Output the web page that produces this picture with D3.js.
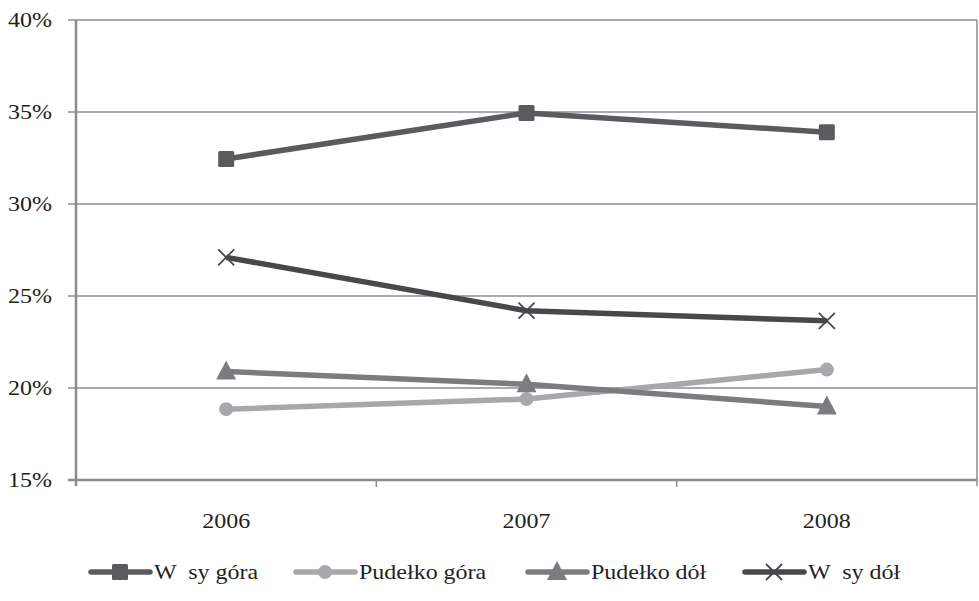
<!DOCTYPE html>
<html>
<head>
<meta charset="utf-8">
<script src="https://cdn.jsdelivr.net/npm/d3@7"></script>
<style>
  body { margin: 0; background: #fff; }
  text { font-family: "Liberation Serif", "DejaVu Serif", serif; }
</style>
</head>
<body>
<svg id="chart" width="979" height="601"></svg>
<script>
// chart data
var years = ["2006", "2007", "2008"];
var wasyGora = [32.45, 34.95, 33.9];
var pudelkoGora = [18.85, 19.4, 21.0];
var pudelkoDol = [20.9, 20.2, 19.0];
var wasyDol = [27.1, 24.2, 23.65];
var yTicks = [15, 20, 25, 30, 35, 40];

var series = [
	{ name: "W  sy góra", values: wasyGora, color: "#5a5b5f", marker: "square" },
	{ name: "Pudełko góra", values: pudelkoGora, color: "#a6a8ab", marker: "circle" },
	{ name: "Pudełko dół", values: pudelkoDol, color: "#7b7c80", marker: "triangle" },
	{ name: "W  sy dół", values: wasyDol, color: "#47484c", marker: "cross" }
];

var svg = d3.select("#chart");
var plotL = 76, plotR = 977, plotT = 20, plotB = 480;
var gridColor = "#8b8c90";
var textColor = "#231f20";
var stretch = 1.2; // the reference type is a little wide

var x = d3.scaleBand().domain(years).range([plotL, plotR]).paddingInner(0).paddingOuter(0);
var y = d3.scaleLinear().domain([15, 40]).range([plotB, plotT]);

// place text with a horizontal stretch
function label(sel, tx, ty) {
	return sel.attr("transform", (d, i) => "translate(" + tx(d, i) + "," + ty(d, i) + ") scale(" + stretch + ",1)")
		.attr("font-size", 20)
		.attr("fill", textColor);
}

// gridlines
svg.append("g").selectAll("line")
	.data(yTicks)
	.enter().append("line")
	.attr("x1", plotL - 8).attr("x2", plotR)
	.attr("y1", d => y(d)).attr("y2", d => y(d))
	.style("stroke", gridColor)
	.style("stroke-width", d => d === 15 ? 2.5 : 1.5);

// left axis and right border
svg.append("line").attr("x1", plotL).attr("x2", plotL).attr("y1", plotT).attr("y2", plotB + 6)
	.style("stroke", gridColor).style("stroke-width", 2.5);
svg.append("line").attr("x1", plotR).attr("x2", plotR).attr("y1", plotT).attr("y2", plotB + 6)
	.style("stroke", gridColor).style("stroke-width", 1.5);

// x tick marks at band edges
svg.append("g").selectAll("line")
	.data(years.slice(1))
	.enter().append("line")
	.attr("x1", d => x(d)).attr("x2", d => x(d))
	.attr("y1", plotB).attr("y2", plotB + 7)
	.style("stroke", gridColor).style("stroke-width", 1.5);

// y labels
label(svg.append("g").selectAll("text")
	.data(yTicks)
	.enter().append("text"), () => 52, d => y(d))
	.attr("dy", "0.35em")
	.attr("text-anchor", "end")
	.text(d => d + "%");

// x labels
label(svg.append("g").selectAll("text")
	.data(years)
	.enter().append("text"), d => x(d) + x.bandwidth() / 2, () => 528)
	.attr("text-anchor", "middle")
	.text(d => d);

function drawMarker(g, type, color) {
	if (type === "square") {
		g.append("rect").attr("x", -8).attr("y", -8).attr("width", 16).attr("height", 16)
			.attr("rx", 1.5).style("fill", color);
	} else if (type === "circle") {
		g.append("circle").attr("r", 7).style("fill", color);
	} else if (type === "triangle") {
		g.append("path").attr("d", "M0,-11L10,8L-10,8Z").style("fill", color);
	} else if (type === "cross") {
		g.append("path").attr("d", "M-8,-8L8,8M-8,8L8,-8")
			.style("stroke", color).style("stroke-width", 1.8).style("fill", "none");
	}
}

var line = d3.line()
	.x((d, i) => x(years[i]) + x.bandwidth() / 2)
	.y(d => y(d));

series.forEach(function (s) {
	var g = svg.append("g");
	g.append("path")
		.datum(s.values)
		.attr("d", line)
		.style("fill", "none")
		.style("stroke", s.color)
		.style("stroke-width", 5.5)
		.style("stroke-linejoin", "round");
	s.values.forEach(function (v, i) {
		var m = g.append("g")
			.attr("transform", "translate(" + (x(years[i]) + x.bandwidth() / 2) + "," + y(v) + ")");
		drawMarker(m, s.marker, s.color);
	});
});

// legend
var legendX = [91, 296, 528, 745];
var legend = svg.append("g").selectAll("g")
	.data(series)
	.enter().append("g")
	.attr("transform", (d, i) => "translate(" + legendX[i] + ",572)");

legend.append("line")
	.attr("x1", 0).attr("x2", 59)
	.style("stroke", d => d.color)
	.style("stroke-width", 5.5)
	.style("stroke-linecap", "round");

legend.each(function (d) {
	var m = d3.select(this).append("g").attr("transform", "translate(29,0)");
	drawMarker(m, d.marker, d.color);
});

label(legend.append("text"), () => 63, () => 0)
	.attr("dy", "0.35em")
	.style("white-space", "pre")
	.attr("xml:space", "preserve")
	.text(d => d.name);
</script>
</body>
</html>
